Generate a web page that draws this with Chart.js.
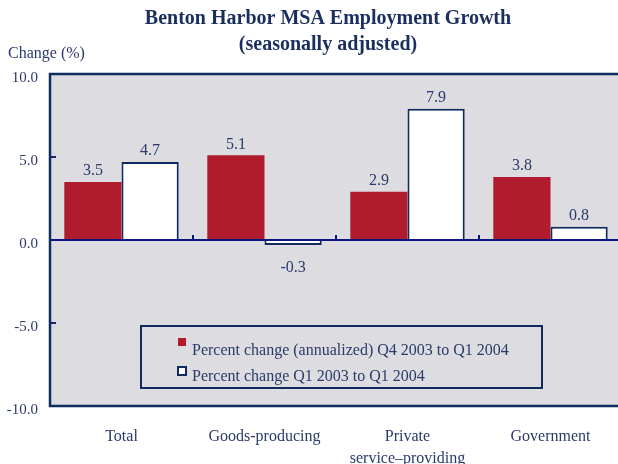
<!DOCTYPE html>
<html>
<head>
<meta charset="utf-8">
<script src="https://cdn.jsdelivr.net/npm/chart.js"></script>
<style>
  html, body { margin: 0; padding: 0; background: #ffffff; overflow: hidden; }
  #wrap { width: 618px; height: 464px; overflow: hidden; }
  #box { width: 626px; height: 464px; position: relative; }
</style>
</head>
<body>
<div id="wrap"><div id="box"><canvas id="chart"></canvas></div></div>
<script>
const categories = ["Total", "Goods-producing", ["Private", "service\u2013providing"], "Government"];
const quarterChange = [3.5, 5.1, 2.9, 3.8];
const yearChange = [4.7, -0.3, 7.9, 0.8];
const seriesLabels = [
  "Percent change (annualized) Q4 2003 to Q1 2004",
  "Percent change Q1 2003 to Q1 2004",
];
const yTicks = [-10, -5, 0, 5, 10];

const NAVY = "#0f2b5f";
const TEXT = "#2b3a68";
const SERIF = "'Liberation Serif', 'DejaVu Serif', serif";

const decorations = {
  id: "decorations",
  beforeDraw(chart) {
    const { ctx, chartArea: a } = chart;
    ctx.save();
    ctx.fillStyle = "#dcdce1";
    ctx.fillRect(a.left, a.top, a.right - a.left, a.bottom - a.top);
    ctx.restore();
  },
  afterDatasetsDraw(chart) {
    const { ctx, chartArea: a, scales } = chart;
    const y = scales.y;
    const x = scales.x;
    ctx.save();

    // frame
    ctx.strokeStyle = NAVY;
    ctx.lineWidth = 2.5;
    ctx.strokeRect(a.left, a.top, a.right - a.left, a.bottom - a.top);

    // minor ticks on left axis
    ctx.lineWidth = 2;
    [5, -5].forEach((v) => {
      const py = y.getPixelForValue(v);
      ctx.beginPath();
      ctx.moveTo(a.left, py);
      ctx.lineTo(a.left + 6, py);
      ctx.stroke();
    });

    // zero line
    const y0 = y.getPixelForValue(0);
    ctx.strokeStyle = "#0a1580";
    ctx.lineWidth = 2;
    ctx.beginPath();
    ctx.moveTo(a.left, y0);
    ctx.lineTo(a.right, y0);
    ctx.stroke();

    // category separators on zero line
    for (let i = 0; i < categories.length - 1; i++) {
      const px = (x.getPixelForValue(i) + x.getPixelForValue(i + 1)) / 2;
      ctx.beginPath();
      ctx.moveTo(px, y0);
      ctx.lineTo(px, y0 - 5);
      ctx.stroke();
    }

    // value labels
    ctx.fillStyle = TEXT;
    ctx.font = "16px " + SERIF;
    ctx.textAlign = "center";
    chart.data.datasets.forEach((ds, di) => {
      chart.getDatasetMeta(di).data.forEach((bar, i) => {
        const v = ds.data[i];
        const label = v.toFixed(1);
        if (v >= 0) {
          ctx.textBaseline = "bottom";
          ctx.fillText(label, bar.x, bar.y - 3);
        } else {
          ctx.textBaseline = "top";
          ctx.fillText(label, bar.x, bar.y + 15);
        }
      });
    });

    // legend
    const lx = 141, ly = 326, lw = 401, lh = 62;
    ctx.fillStyle = "#dcdce1";
    ctx.fillRect(lx, ly, lw, lh);
    ctx.strokeStyle = NAVY;
    ctx.lineWidth = 2;
    ctx.strokeRect(lx, ly, lw, lh);
    chart.data.datasets.forEach((ds, di) => {
      const ry = ly + 12 + di * 29;
      if (di === 0) {
        ctx.fillStyle = ds.backgroundColor;
        ctx.fillRect(lx + 37, ry, 8, 8);
      } else {
        ctx.fillStyle = "#ffffff";
        ctx.fillRect(lx + 37, ry, 8, 8);
        ctx.strokeStyle = NAVY;
        ctx.lineWidth = 2;
        ctx.strokeRect(lx + 37, ry, 8, 8);
      }
      ctx.fillStyle = TEXT;
      ctx.textAlign = "left";
      ctx.textBaseline = "alphabetic";
      ctx.font = "16px " + SERIF;
      ctx.fillText(ds.label, lx + 51, ly + 29 + di * 26);
    });

    // titles
    ctx.fillStyle = "#1b2f5e";
    ctx.textAlign = "center";
    ctx.textBaseline = "middle";
    ctx.font = "bold 20px " + SERIF;
    ctx.fillText("Benton Harbor MSA Employment Growth", 328, 19);
    ctx.fillText("(seasonally adjusted)", 328, 45);

    ctx.fillStyle = TEXT;
    ctx.textAlign = "left";
    ctx.textBaseline = "alphabetic";
    ctx.font = "16px " + SERIF;
    ctx.fillText("Change (%)", 8, 58);

    ctx.restore();
  },
};

new Chart(document.getElementById("chart"), {
  type: "bar",
  data: {
    labels: categories,
    datasets: [
      {
        label: seriesLabels[0],
        data: quarterChange,
        backgroundColor: "#b01c2e",
        borderWidth: 0,
        categoryPercentage: 0.8,
        barPercentage: 1.0,
      },
      {
        label: seriesLabels[1],
        data: yearChange,
        backgroundColor: "#ffffff",
        borderColor: NAVY,
        borderWidth: 2,
        categoryPercentage: 0.8,
        barPercentage: 1.0,
      },
    ],
  },
  options: {
    responsive: true,
    maintainAspectRatio: false,
    animation: false,
    layout: { padding: { top: 74, right: 4, left: 0, bottom: 0 } },
    plugins: {
      legend: { display: false },
      title: { display: false },
      tooltip: { enabled: false },
    },
    scales: {
      x: {
        grid: { display: false, drawTicks: false },
        border: { display: false },
        ticks: {
          color: TEXT,
          font: { family: SERIF, size: 16, lineHeight: 1.35 },
          padding: 20,
          maxRotation: 0,
          autoSkip: false,
        },
        afterFit(scale) { scale.height = 58; },
      },
      y: {
        min: -10,
        max: 10,
        afterBuildTicks(scale) { scale.ticks = yTicks.map((v) => ({ value: v })); },
        grid: { display: false, drawTicks: false },
        border: { display: false },
        ticks: {
          color: TEXT,
          font: { family: SERIF, size: 15 },
          padding: 12,
          labelOffset: 4,
          callback: (v) => Number(v).toFixed(1),
        },
        afterFit(scale) { scale.width = 50; },
      },
    },
  },
  plugins: [decorations],
});
</script>
</body>
</html>
